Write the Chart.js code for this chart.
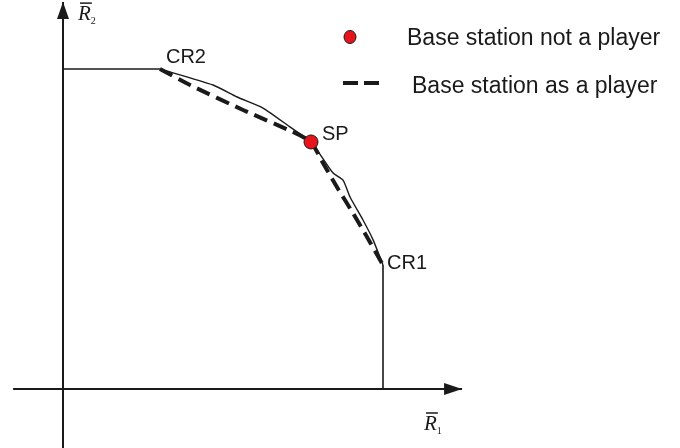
<!DOCTYPE html>
<html>
<head>
<meta charset="utf-8">
<script src="https://cdn.jsdelivr.net/npm/chart.js@4/dist/chart.umd.min.js"></script>
<style>
  html, body { margin: 0; padding: 0; background: #fff; }
  #wrap { width: 680px; height: 448px; position: relative; }
</style>
</head>
<body>
<div id="wrap"><canvas id="region"></canvas></div>
<script>
// rate region, R1 / R2 normalised so CR1 sits at R1 = 1 and CR2 at R2 = 1
const flatR1 = [0, 0.303];
const flatR2 = [1, 1];
const boundR1 = [0.303, 0.469, 0.544, 0.625, 0.709, 0.775, 0.844, 0.875, 0.897, 0.9375, 0.969, 1.0];
const boundR2 = [1.0, 0.95, 0.9125, 0.878, 0.819, 0.772, 0.675, 0.653, 0.6, 0.528, 0.466, 0.3875];
const dropR1 = [1, 1];
const dropR2 = [0.3875, 0];
const playerR1 = [0.303, 0.397, 0.5625, 0.719, 0.775, 0.8125, 0.856, 0.906, 0.95, 1.0];
const playerR2 = [1.0, 0.95, 0.872, 0.803, 0.772, 0.706, 0.631, 0.55, 0.475, 0.3875];
const spR1 = [0.775];
const spR2 = [0.772];
const axisR1 = [-0.156, 1.247];
const axisR2 = [-0.184, 1.209];

const pointNames = ["CR2", "SP", "CR1"];
const pointR1 = [0.303, 0.775, 1.0];
const pointR2 = [1.0, 0.772, 0.3875];
const legendLabels = ["Base station not a player", "Base station as a player"];

const toXY = (xs, ys) => xs.map((x, i) => ({ x: x, y: ys[i] }));

const INK = "#1a1a1a";
const RED = "#e8141c";

const annotations = {
  id: "annotations",
  afterDatasetsDraw(chart) {
    const ctx = chart.ctx;
    const sx = chart.scales.x;
    const sy = chart.scales.y;
    ctx.save();
    ctx.fillStyle = INK;
    ctx.strokeStyle = INK;

    // arrow heads
    const xTip = { x: sx.getPixelForValue(axisR1[1]), y: sy.getPixelForValue(0) };
    const yTip = { x: sx.getPixelForValue(0), y: sy.getPixelForValue(axisR2[1]) };
    ctx.beginPath();
    ctx.moveTo(xTip.x, xTip.y);
    ctx.lineTo(xTip.x - 18, xTip.y - 6);
    ctx.lineTo(xTip.x - 18, xTip.y + 6);
    ctx.closePath();
    ctx.fill();
    ctx.beginPath();
    ctx.moveTo(yTip.x, yTip.y);
    ctx.lineTo(yTip.x - 6, yTip.y + 17);
    ctx.lineTo(yTip.x + 6, yTip.y + 17);
    ctx.closePath();
    ctx.fill();

    // axis titles: R with bar and subscript
    function rBar(x, y, sub) {
      ctx.font = 'italic 21px "Liberation Serif"';
      ctx.textBaseline = "alphabetic";
      ctx.fillText("R", x, y);
      const w = ctx.measureText("R").width;
      ctx.lineWidth = 1.5;
      ctx.beginPath();
      ctx.moveTo(x + 2, y - 17);
      ctx.lineTo(x + w + 1, y - 17);
      ctx.stroke();
      ctx.font = '10px "Liberation Serif"';
      ctx.fillText(sub, x + w, y + 4);
    }
    rBar(xTip.x - 38, xTip.y + 41, "1");
    rBar(yTip.x + 15, yTip.y + 18, "2");

    // point labels
    const offsets = [[6, -6], [11, -2], [4, 4]];
    ctx.font = '20px "Liberation Sans"';
    pointNames.forEach((name, i) => {
      const px = sx.getPixelForValue(pointR1[i]);
      const py = sy.getPixelForValue(pointR2[i]);
      ctx.fillText(name, px + offsets[i][0], py + offsets[i][1]);
    });

    // legend
    ctx.beginPath();
    ctx.ellipse(350, 37, 6, 6.5, 0, 0, Math.PI * 2);
    ctx.fillStyle = RED;
    ctx.fill();
    ctx.lineWidth = 1;
    ctx.strokeStyle = INK;
    ctx.stroke();
    ctx.setLineDash([15, 6]);
    ctx.lineWidth = 4;
    ctx.beginPath();
    ctx.moveTo(343, 83);
    ctx.lineTo(384, 83);
    ctx.stroke();
    ctx.setLineDash([]);
    ctx.fillStyle = INK;
    ctx.font = '23px "Liberation Sans"';
    ctx.fillText(legendLabels[0], 407, 45);
    ctx.fillText(legendLabels[1], 412, 93);
    ctx.restore();
  }
};

const lineDefaults = {
  showLine: true,
  pointRadius: 0,
  borderColor: INK,
  fill: false
};

new Chart(document.getElementById("region"), {
  type: "scatter",
  data: {
    datasets: [
      {
        label: "SP",
        data: toXY(spR1, spR2),
        pointRadius: 7,
        pointStyle: "circle",
        backgroundColor: RED,
        borderColor: INK,
        borderWidth: 1
      },
      Object.assign({}, lineDefaults, {
        label: legendLabels[1],
        data: toXY(playerR1, playerR2),
        borderWidth: 4,
        borderDash: [14, 7],
        tension: 0.2
      }),
      Object.assign({}, lineDefaults, {
        label: "boundary",
        data: toXY(boundR1, boundR2),
        borderWidth: 1.4,
        tension: 0.2
      }),
      Object.assign({}, lineDefaults, {
        label: "flat",
        data: toXY(flatR1, flatR2),
        borderWidth: 1.6
      }),
      Object.assign({}, lineDefaults, {
        label: "drop",
        data: toXY(dropR1, dropR2),
        borderWidth: 1.6
      }),
      Object.assign({}, lineDefaults, {
        label: "R1 axis",
        data: toXY(axisR1, [0, 0]),
        borderWidth: 2
      }),
      Object.assign({}, lineDefaults, {
        label: "R2 axis",
        data: toXY([0, 0], axisR2),
        borderWidth: 2
      })
    ]
  },
  options: {
    responsive: true,
    maintainAspectRatio: false,
    animation: false,
    events: [],
    layout: { padding: 0, autoPadding: false },
    scales: {
      x: { type: "linear", display: false, min: -0.196875, max: 1.928125 },
      y: { type: "linear", display: false, min: -0.184375, max: 1.215625 }
    },
    plugins: {
      legend: { display: false },
      tooltip: { enabled: false }
    }
  },
  plugins: [annotations]
});
</script>
</body>
</html>
